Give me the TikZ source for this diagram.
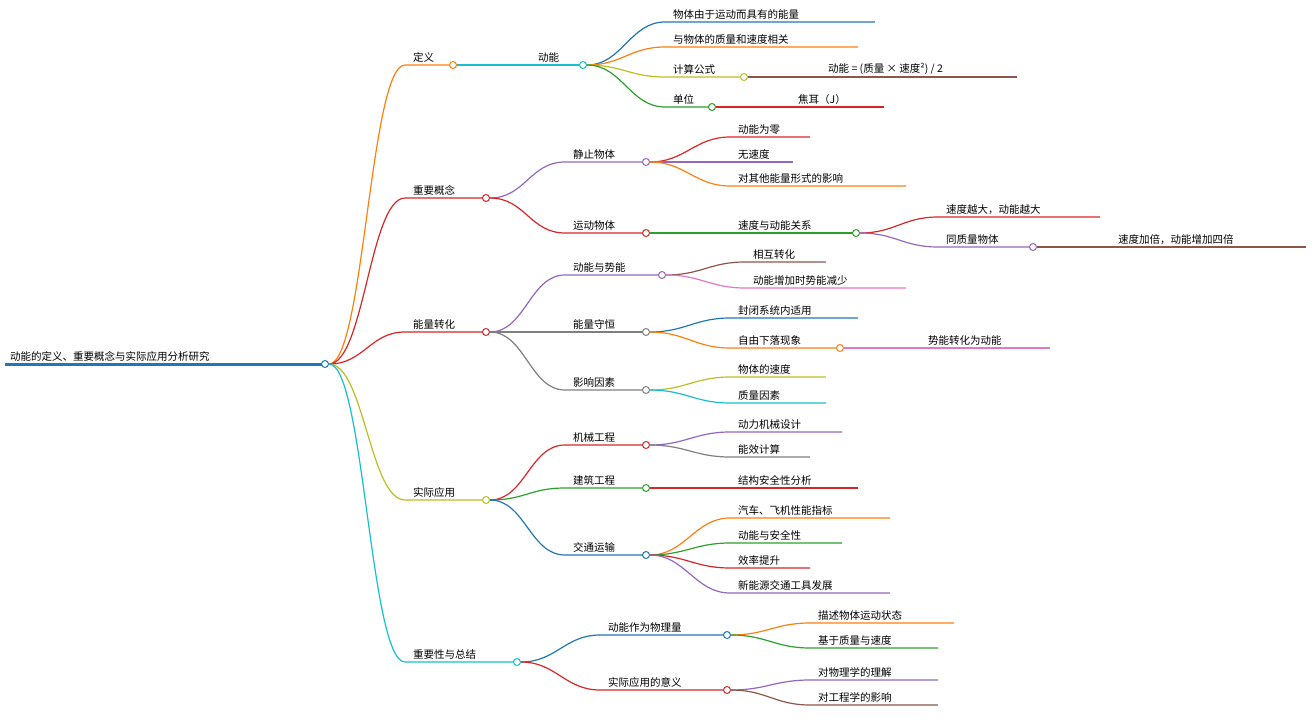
\documentclass[tikz,border=0pt]{standalone}
\usepackage{fontspec}
\setmainfont{Noto Sans CJK SC}
\usetikzlibrary{positioning}
\definecolor{cblue}{RGB}{31,119,180}
\definecolor{corange}{RGB}{255,127,14}
\definecolor{cgreen}{RGB}{44,160,44}
\definecolor{cred}{RGB}{214,39,40}
\definecolor{cpurple}{RGB}{148,103,189}
\definecolor{cbrown}{RGB}{140,86,75}
\definecolor{cpink}{RGB}{227,119,194}
\definecolor{cgray}{RGB}{127,127,127}
\definecolor{colive}{RGB}{188,189,34}
\definecolor{ccyan}{RGB}{23,190,207}
\tikzset{
  tag/.style={anchor=south west, inner sep=2pt, font=\fontsize{10.5}{12}\selectfont},
  knot/.style={circle, draw=#1, fill=white, line width=1pt, inner sep=0pt, minimum size=7pt},
  link/.style={draw=#1, line width=1.2pt}
}
% #1 name, #2 parent, #3 x1, #4 x2, #5 y, #6 colour, #7 text
\newcommand\topic[7]{%
  \coordinate (#1s) at (#3,#5); \coordinate (#1e) at (#4,#5);
  \draw[link=#6] (#2) .. controls +(35,0) and +(-35,0) .. (#1s) -- (#1e);
  \node[tag] (#1) at ([xshift=6pt]#1s) {#7};}
\newcommand\knot[2]{\node[knot=#2] (#1k) at (#1e) {};}

\begin{document}
\begin{tikzpicture}[x=1pt, y=-1pt]
  \useasboundingbox (0,0) rectangle (1314,727);
  % root
  \coordinate (roote) at (325,364);
  \draw[cblue, line width=3pt] (5,364) -- (roote);
  \node[tag] (root) at (8,364) {动能的定义、重要概念与实际应用分析研究};
  \node[knot=cblue] (rootk) at (roote) {};

  % definition
  \topic{def}{rootk.east}{405}{453}{65}{corange}{定义}\knot{def}{corange}
  \topic{ek}{defk.east}{530}{583}{65}{ccyan}{动能}\knot{ek}{ccyan}
  \topic{d1}{ekk.east}{665}{875}{22}{cblue}{物体由于运动而具有的能量}
  \topic{d2}{ekk.east}{665}{858}{47}{corange}{与物体的质量和速度相关}
  \topic{d3}{ekk.east}{665}{744}{77}{colive}{计算公式}\knot{d3}{colive}
  \topic{d4}{ekk.east}{665}{712}{107}{cgreen}{单位}\knot{d4}{cgreen}
  \topic{d31}{d3k.east}{820}{1017}{77}{cbrown}{动能 = (质量 × 速度²) / 2}
  \topic{d41}{d4k.east}{790}{884}{107}{cred}{焦耳（J）}

  % concepts
  \topic{con}{rootk.east}{405}{486}{198}{cred}{重要概念}\knot{con}{cred}
  \topic{st}{conk.east}{565}{646}{162}{cpurple}{静止物体}\knot{st}{cpurple}
  \topic{mv}{conk.east}{565}{646}{233}{cred}{运动物体}\knot{mv}{cred}
  \topic{s1}{stk.east}{730}{810}{137}{cred}{动能为零}
  \topic{s2}{stk.east}{730}{793}{162}{cpurple}{无速度}
  \topic{s3}{stk.east}{730}{906}{186}{corange}{对其他能量形式的影响}
  \topic{m1}{mvk.east}{730}{856}{233}{cgreen}{速度与动能关系}\knot{m1}{cgreen}
  \topic{m11}{m1k.east}{938}{1100}{217}{cred}{速度越大，动能越大}
  \topic{m12}{m1k.east}{938}{1033}{247}{cpurple}{同质量物体}\knot{m12}{cpurple}
  \topic{m121}{m12k.east}{1110}{1306}{247}{cbrown}{速度加倍，动能增加四倍}

  % conversion
  \topic{cv}{rootk.east}{405}{486}{332}{cred}{能量转化}\knot{cv}{cred}
  \topic{kp}{cvk.east}{565}{662}{275}{cpurple}{动能与势能}\knot{kp}{cpurple}
  \topic{cs}{cvk.east}{565}{646}{332}{cgray}{能量守恒}\knot{cs}{cgray}
  \topic{fa}{cvk.east}{565}{646}{390}{cgray}{影响因素}\knot{fa}{cgray}
  \topic{k1}{kpk.east}{745}{826}{262}{cbrown}{相互转化}
  \topic{k2}{kpk.east}{745}{906}{288}{cpink}{动能增加时势能减少}
  \topic{c1}{csk.east}{730}{858}{318}{cblue}{封闭系统内适用}
  \topic{c2}{csk.east}{730}{840}{348}{corange}{自由下落现象}\knot{c2}{corange}
  \topic{c21}{c2k.east}{920}{1050}{348}{cpink}{势能转化为动能}
  \topic{f1}{fak.east}{730}{826}{377}{colive}{物体的速度}
  \topic{f2}{fak.east}{730}{826}{403}{ccyan}{质量因素}

  % applications
  \topic{ap}{rootk.east}{405}{486}{500}{colive}{实际应用}\knot{ap}{colive}
  \topic{me}{apk.east}{565}{646}{445}{cred}{机械工程}\knot{me}{cred}
  \topic{bu}{apk.east}{565}{646}{488}{cgreen}{建筑工程}\knot{bu}{cgreen}
  \topic{tr}{apk.east}{565}{646}{555}{cblue}{交通运输}\knot{tr}{cblue}
  \topic{e1}{mek.east}{730}{842}{432}{cpurple}{动力机械设计}
  \topic{e2}{mek.east}{730}{810}{457}{cgray}{能效计算}
  \topic{b1}{buk.east}{730}{858}{488}{cred}{结构安全性分析}
  \topic{t1}{trk.east}{730}{890}{518}{corange}{汽车、飞机性能指标}
  \topic{t2}{trk.east}{730}{842}{543}{cgreen}{动能与安全性}
  \topic{t3}{trk.east}{730}{810}{568}{cred}{效率提升}
  \topic{t4}{trk.east}{730}{890}{593}{cpurple}{新能源交通工具发展}

  % summary
  \topic{sm}{rootk.east}{405}{517}{662}{ccyan}{重要性与总结}\knot{sm}{ccyan}
  \topic{pq}{smk.east}{600}{727}{635}{cblue}{动能作为物理量}\knot{pq}{cblue}
  \topic{mn}{smk.east}{600}{727}{690}{cred}{实际应用的意义}\knot{mn}{cred}
  \topic{p1}{pqk.east}{810}{954}{623}{corange}{描述物体运动状态}
  \topic{p2}{pqk.east}{810}{938}{648}{cgreen}{基于质量与速度}
  \topic{n1}{mnk.east}{810}{938}{680}{cpurple}{对物理学的理解}
  \topic{n2}{mnk.east}{810}{938}{705}{cbrown}{对工程学的影响}
\end{tikzpicture}
\end{document}
